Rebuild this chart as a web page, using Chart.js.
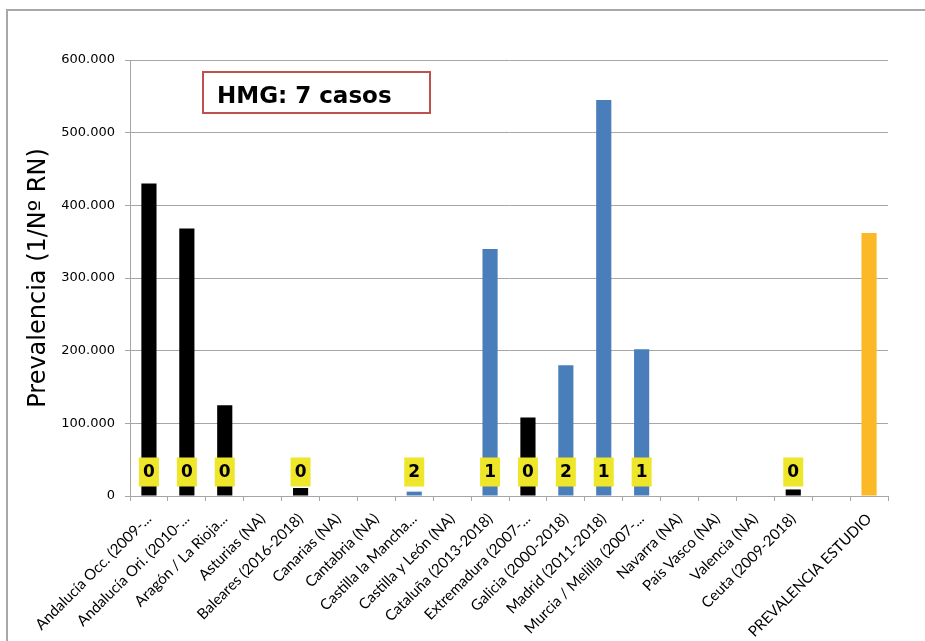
<!DOCTYPE html>
<html lang="es">
<head>
<meta charset="utf-8">
<title>Prevalencia HMG por comunidad</title>
<script src="https://cdn.jsdelivr.net/npm/chart.js@4"></script>
<style>
  html, body { margin: 0; padding: 0; background: #ffffff; overflow: hidden; }
  #wrap { position: relative; width: 925px; height: 641px; overflow: hidden; }
  #marco {
    position: absolute; left: 6px; top: 9px; width: 1000px; height: 1000px;
    border-top: 2px solid #a8a8a8; border-left: 2px solid #a8a8a8;
    pointer-events: none;
  }
  canvas { display: block; position: absolute; left: 0; top: 0; }
</style>
</head>
<body>
<div id="wrap"><div id="marco"></div><canvas id="grafico" width="925" height="641"></canvas></div>
<script>
// Comunidades (registro y periodo) y prevalencia estimada (1 / nº de recién nacidos)
const categorias = [
  'Andalucía Occ. (2009-...',
  'Andalucía Ori. (2010-...',
  'Aragón / La Rioja...',
  'Asturias (NA)',
  'Baleares (2016-2018)',
  'Canarias (NA)',
  'Cantabria (NA)',
  'Castilla la Mancha...',
  'Castilla y León (NA)',
  'Cataluña (2013-2018)',
  'Extremadura (2007-...',
  'Galicia (2000-2018)',
  'Madrid (2011-2018)',
  'Murcia / Melilla (2007-...',
  'Navarra (NA)',
  'País Vasco (NA)',
  'Valencia (NA)',
  'Ceuta (2009-2018)',
  '',
  'PREVALENCIA ESTUDIO'
];

const prevalencia = [
  430000, 368000, 125000, null, 11000,
  null, null, 6000, null, 340000,
  108000, 180000, 545000, 202000, null,
  null, null, 9000, null, 362000
];

// Casos detectados en cada comunidad
const casos = [
  0, 0, 0, null, 0,
  null, null, 2, null, 1,
  0, 2, 1, 1, null,
  null, null, 0, null, null
];

// Grupo de cada barra: 'sinCasos', 'conCasos' o 'estudio'
const grupo = [
  'sinCasos', 'sinCasos', 'sinCasos', 'sinCasos', 'sinCasos',
  'sinCasos', 'sinCasos', 'conCasos', 'sinCasos', 'conCasos',
  'sinCasos', 'conCasos', 'conCasos', 'conCasos', 'sinCasos',
  'sinCasos', 'sinCasos', 'sinCasos', 'sinCasos', 'estudio'
];

const yTicks = [0, 100000, 200000, 300000, 400000, 500000, 600000];
const tituloEjeY = 'Prevalencia (1/Nº RN)';
const rotuloCasos = 'HMG: 7 casos';

const colorGrupo = { sinCasos: '#000000', conCasos: '#4a7ebb', estudio: '#fbb927' };
const gris = '#a6a6a6';

function miles(v) {
  return String(v).replace(/\B(?=(\d{3})+(?!\d))/g, '.');
}

// Etiquetas amarillas con el número de casos
const etiquetasCasos = {
  id: 'etiquetasCasos',
  afterDatasetsDraw(chart) {
    const ctx = chart.ctx;
    const meta = chart.getDatasetMeta(0);
    const y0 = chart.scales.y.getPixelForValue(0);
    ctx.save();
    ctx.font = 'bold 17px "DejaVu Sans"';
    ctx.textAlign = 'center';
    ctx.textBaseline = 'middle';
    casos.forEach((c, i) => {
      if (c === null) return;
      const x = meta.data[i].x;
      const cy = y0 - 24;
      ctx.fillStyle = '#eee62a';
      ctx.fillRect(x - 10, cy - 14.5, 20, 29);
      ctx.fillStyle = '#000000';
      ctx.fillText(String(c), x, cy + 1);
    });
    ctx.restore();
  }
};

// Recuadro con el total de casos
const recuadro = {
  id: 'recuadro',
  afterDraw(chart) {
    const ctx = chart.ctx;
    const a = chart.chartArea;
    const x = a.left + 73, y = a.top + 12, w = 227, h = 41;
    ctx.save();
    ctx.strokeStyle = '#c0504d';
    ctx.lineWidth = 2;
    ctx.strokeRect(x, y, w, h);
    ctx.fillStyle = '#000000';
    ctx.font = 'bold 23px "DejaVu Sans"';
    ctx.textAlign = 'left';
    ctx.textBaseline = 'alphabetic';
    ctx.fillText(rotuloCasos, x + 14, y + 31);
    ctx.restore();
  }
};

new Chart(document.getElementById('grafico'), {
  type: 'bar',
  data: {
    labels: categorias,
    datasets: [{
      data: prevalencia,
      backgroundColor: grupo.map(g => colorGrupo[g]),
      borderWidth: 0,
      barPercentage: 0.4,
      categoryPercentage: 1.0
    }]
  },
  options: {
    responsive: false,
    animation: false,
    devicePixelRatio: 1,
    layout: { padding: { left: 14, top: 60, right: 37, bottom: 0 } },
    plugins: {
      legend: { display: false },
      tooltip: { enabled: false }
    },
    scales: {
      x: {
        grid: {
          display: true,
          drawOnChartArea: false,
          drawTicks: true,
          tickLength: 5,
          color: gris,
          offset: true
        },
        border: { color: gris, width: 1 },
        ticks: {
          autoSkip: false,
          maxRotation: 45,
          minRotation: 45,
          padding: 9,
          color: '#000000',
          font: { family: 'Lato', size: 15 }
        },
        afterFit(scale) { scale.height = 145; }
      },
      y: {
        min: 0,
        max: 600000,
        afterBuildTicks(scale) { scale.ticks = yTicks.map(v => ({ value: v })); },
        grid: {
          color: gris,
          drawTicks: true,
          tickLength: 5
        },
        border: { color: gris, width: 1 },
        ticks: {
          padding: 10,
          color: '#000000',
          font: { family: 'DejaVu Sans', size: 13 },
          callback: v => miles(v)
        },
        title: {
          display: true,
          text: tituloEjeY,
          color: '#000000',
          font: { family: 'DejaVu Sans', size: 24 },
          padding: { top: 10, bottom: 0 }
        },
        afterFit(scale) { scale.width = 116; }
      }
    }
  },
  plugins: [etiquetasCasos, recuadro]
});
</script>
</body>
</html>
